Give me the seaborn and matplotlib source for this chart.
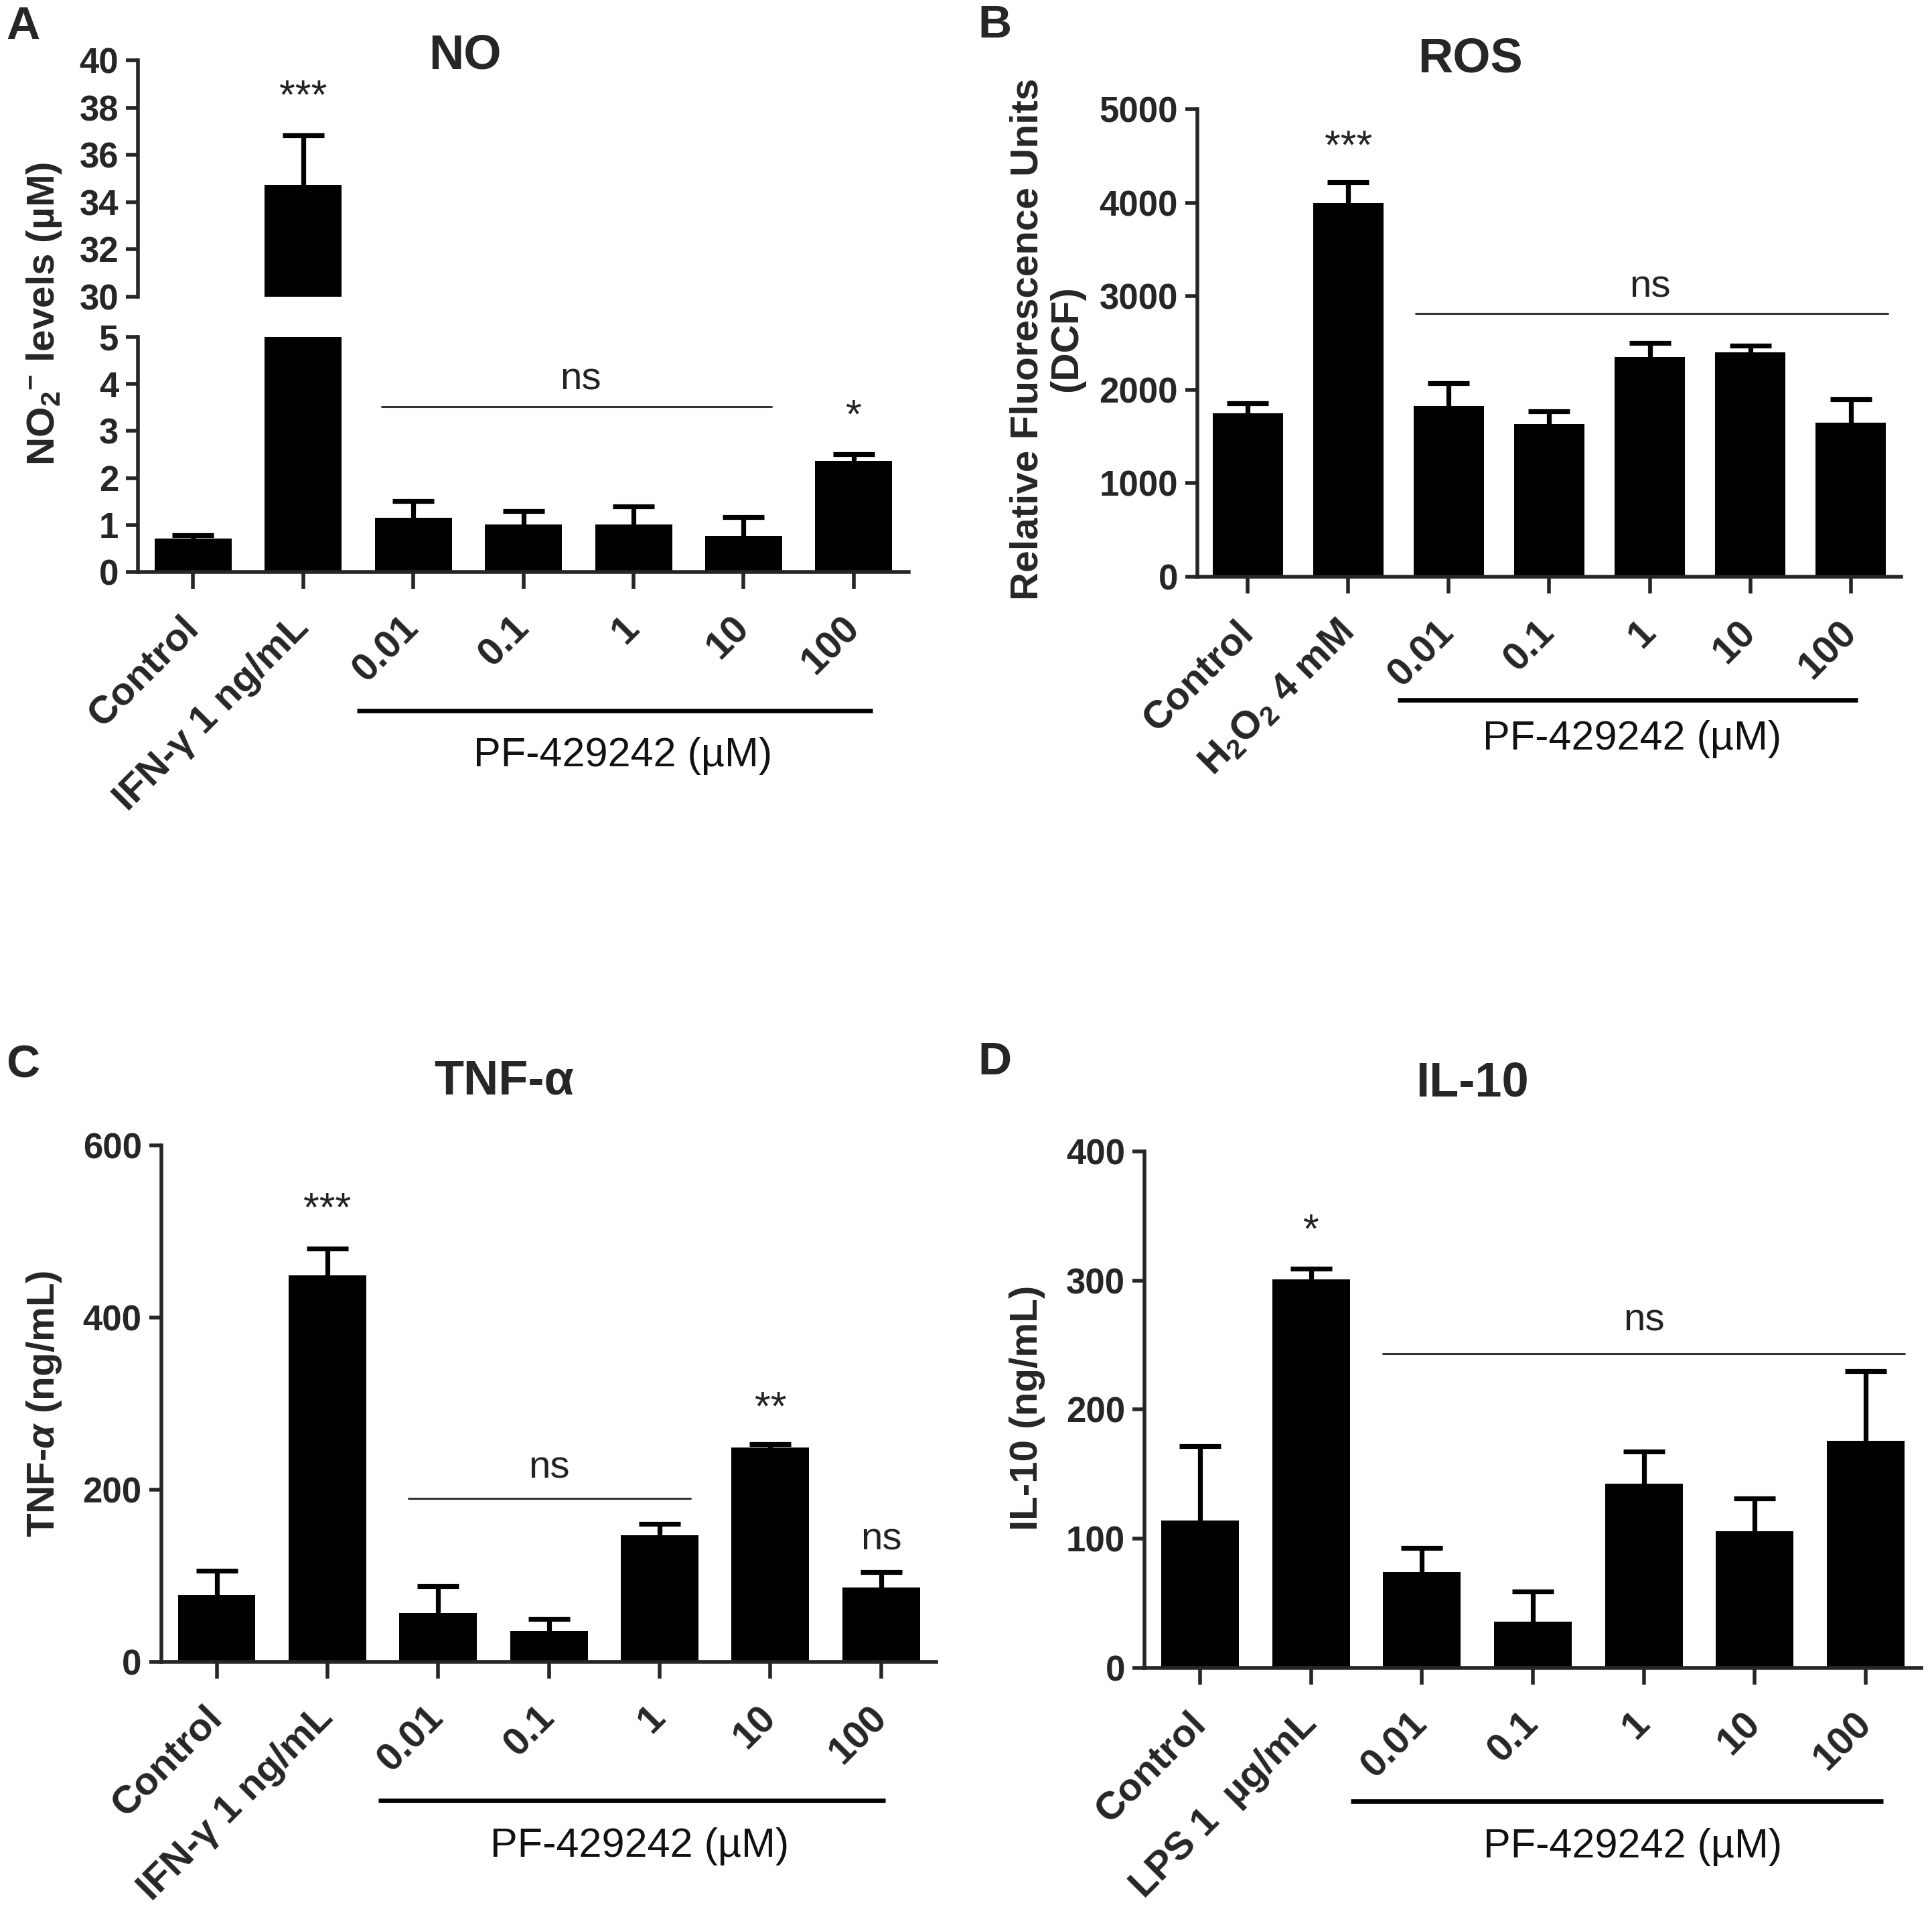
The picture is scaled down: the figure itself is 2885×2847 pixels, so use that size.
import numpy as np
import pandas as pd
import matplotlib
matplotlib.use("Agg")
import matplotlib.pyplot as plt
from matplotlib.transforms import ScaledTranslation
import seaborn as sns

# ---------------- data ----------------
pf_doses = ["0.01", "0.1", "1", "10", "100"]

no_groups = ["Control", "IFN-γ 1 ng/mL"] + pf_doses
no_mean = [0.72, 34.72, 1.15, 1.01, 1.01, 0.77, 2.36]
no_err = [0.06, 2.12, 0.36, 0.29, 0.38, 0.40, 0.15]

ros_groups = ["Control", "H$_2$O$_2$ 4 mM"] + pf_doses
ros_mean = [1745, 3999, 1827, 1630, 2352, 2402, 1647]
ros_err = [110, 219, 246, 142, 148, 71, 251]

tnf_groups = ["Control", "IFN-γ 1 ng/mL"] + pf_doses
tnf_mean = [78, 449, 57, 36, 147, 249, 86]
tnf_err = [28, 31, 31, 14, 13, 4, 18]

il10_groups = ["Control", "LPS 1  µg/mL"] + pf_doses
il10_mean = [114, 301, 74, 36, 142.5, 106, 176]
il10_err = [57.5, 8, 19, 23, 25, 25, 54]

# ---------------- style ----------------
sns.set_style("ticks")
plt.rcParams["font.family"] = ["Liberation Sans", "DejaVu Sans"]
plt.rcParams["font.weight"] = "bold"
plt.rcParams["mathtext.fontset"] = "custom"
plt.rcParams["mathtext.default"] = "regular"
plt.rcParams["mathtext.rm"] = "Liberation Sans:bold"
plt.rcParams["mathtext.it"] = "Liberation Sans:italic:bold"
plt.rcParams["mathtext.bf"] = "Liberation Sans:bold"

DPI = 200
fig = plt.figure(figsize=(2885 / DPI, 2847 / DPI), dpi=DPI)

LW = 2.0
XT_FS = 21
YT_FS = 19


def style_axes(ax, groups, ytks, show_x=True):
    for s in ["top", "right"]:
        ax.spines[s].set_visible(False)
    ax.spines["left"].set_linewidth(LW)
    ax.spines["bottom"].set_linewidth(LW)
    ax.set_xlim(-0.5, len(groups) - 0.5)
    ax.set_yticks(ytks)
    ax.set_ylim(ytks[0], ytks[-1])
    ax.tick_params(axis="y", length=6.5, width=LW, pad=4, labelsize=YT_FS, direction="out")
    ax.set_xlabel("")
    ax.set_ylabel("")
    if show_x:
        ax.set_xticks(range(len(groups)))
        ax.set_xticklabels(groups, rotation=45, ha="right", va="center",
                           rotation_mode="anchor", fontsize=XT_FS, fontweight="bold")
        ax.tick_params(axis="x", length=9, width=LW, pad=18, direction="out")
    else:
        ax.spines["bottom"].set_visible(False)
        ax.tick_params(axis="x", bottom=False, labelbottom=False)


def draw_bars(ax, groups, means, errs):
    df = pd.DataFrame({"group": groups, "value": means})
    sns.barplot(data=df, x="group", y="value", order=groups, color="black",
                saturation=1, width=0.7, errorbar=None, ax=ax,
                edgecolor="black", linewidth=0, zorder=2)
    n = len(groups)
    eb = ax.errorbar(np.arange(n), means, yerr=[np.zeros(n), errs], fmt="none",
                     ecolor="black", elinewidth=2.6, capsize=11, capthick=2.6, zorder=1)
    # only the upper half of each error bar is visible (GraphPad style)
    for cl in eb[1]:
        if np.allclose(np.asarray(cl.get_ydata(), float), np.asarray(means, float)):
            cl.remove()


def annot(ax, x, y, s, fs=22, center_em=0.58):
    tr = ax.transData + ScaledTranslation(0, -center_em * fs / 72, fig.dpi_scale_trans)
    ax.text(x, y, s, transform=tr, ha="center", va="baseline", fontsize=fs,
            fontweight="normal", color="#222222", clip_on=False)


def ns_line(ax, x0, x1, y):
    ax.plot([x0, x1], [y, y], color="#333333", lw=1.1, clip_on=False, zorder=3)


def bracket(ax, x0, x1, yfrac, xlab, ylab):
    tr = ax.get_xaxis_transform()
    ax.plot([x0, x1], [yfrac, yfrac], color="black", lw=2.4, transform=tr,
            clip_on=False, solid_capstyle="butt")
    ax.text(xlab, ylab, "PF-429242 (µM)", transform=tr, ha="center", va="center",
            fontsize=22, fontweight="normal", color="#111111")


# ---------------- Panel A (broken axis) ----------------
axA_up = fig.add_axes([0.0715, 0.8444, 0.3989, 0.1240])
axA_lo = fig.add_axes([0.0715, 0.7000, 0.3989, 0.1234])
for ax in (axA_up, axA_lo):
    draw_bars(ax, no_groups, no_mean, no_err)
style_axes(axA_up, no_groups, [30, 32, 34, 36, 38, 40], show_x=False)
style_axes(axA_lo, no_groups, [0, 1, 2, 3, 4, 5], show_x=True)
annot(axA_up, 1, 38.98, "***")
annot(axA_lo, 6, 3.57, "*")
annot(axA_lo, 3.52, 4.09, "ns", fs=21, center_em=0.26)
ns_line(axA_lo, 1.71, 5.25, 3.51)
bracket(axA_lo, 1.49, 6.17, -0.59, 3.9, -0.78)

# ---------------- Panel B ----------------
axB = fig.add_axes([0.6198, 0.6976, 0.3642, 0.2451])
draw_bars(axB, ros_groups, ros_mean, ros_err)
style_axes(axB, ros_groups, [0, 1000, 2000, 3000, 4000, 5000])
annot(axB, 1, 4732, "***")
annot(axB, 4.0, 3102, "ns", fs=21, center_em=0.26)
ns_line(axB, 1.67, 6.37, 2817)
bracket(axB, 1.49, 6.07, -0.264, 3.82, -0.348)

# ---------------- Panel C ----------------
axC = fig.add_axes([0.0835, 0.1286, 0.4012, 0.2709])
draw_bars(axC, tnf_groups, tnf_mean, tnf_err)
style_axes(axC, tnf_groups, [0, 200, 400, 600])
annot(axC, 1, 540, "***")
annot(axC, 5, 309, "**")
annot(axC, 3.0, 225, "ns", fs=21, center_em=0.26)
ns_line(axC, 1.73, 4.28, 190)
annot(axC, 6, 142, "ns", fs=21, center_em=0.26)
bracket(axC, 1.46, 6.04, -0.269, 3.82, -0.357)

# ---------------- Panel D ----------------
axD = fig.add_axes([0.5925, 0.1254, 0.4018, 0.2709])
draw_bars(axD, il10_groups, il10_mean, il10_err)
style_axes(axD, il10_groups, [0, 100, 200, 300, 400])
annot(axD, 1, 348, "*")
annot(axD, 4.0, 269, "ns", fs=21, center_em=0.26)
ns_line(axD, 1.65, 6.35, 243)
bracket(axD, 1.36, 6.16, -0.258, 3.9, -0.347)

# ---------------- titles, labels, panel letters ----------------
TFS = 26
fig.text(0.2406, 0.9705, "NO", ha="center", va="center", fontsize=TFS, fontweight="bold")
fig.text(0.761, 0.969, "ROS", ha="center", va="center", fontsize=TFS, fontweight="bold")
fig.text(0.261, 0.433, "TNF-α", ha="center", va="center", fontsize=TFS, fontweight="bold")
fig.text(0.762, 0.432, "IL-10", ha="center", va="center", fontsize=TFS, fontweight="bold")

YL_FS = 21
fig.text(0.0229, 0.8356, "NO$_2$$^{-}$ levels (µM)", rotation=90, ha="center", va="center",
         fontsize=YL_FS, fontweight="bold")
fig.text(0.542, 0.8223, "Relative Fluorescence Units\n(DCF)", rotation=90, ha="center",
         va="center", fontsize=YL_FS, fontweight="bold", multialignment="center",
         linespacing=1.1)
fig.text(0.0229, 0.2638, r"TNF-$\mathit{\alpha}$ (ng/mL)", rotation=90, ha="center",
         va="center", fontsize=YL_FS, fontweight="bold")
fig.text(0.5317, 0.2617, "IL-10 (ng/mL)", rotation=90, ha="center", va="center",
         fontsize=YL_FS, fontweight="bold")

PFS = 25
fig.text(0.012, 0.986, "A", ha="center", va="center", fontsize=PFS, fontweight="bold")
fig.text(0.515, 0.9866, "B", ha="center", va="center", fontsize=PFS, fontweight="bold")
fig.text(0.012, 0.4415, "C", ha="center", va="center", fontsize=PFS, fontweight="bold")
fig.text(0.515, 0.443, "D", ha="center", va="center", fontsize=PFS, fontweight="bold")

fig.savefig("out.png", dpi=DPI, facecolor="white")
